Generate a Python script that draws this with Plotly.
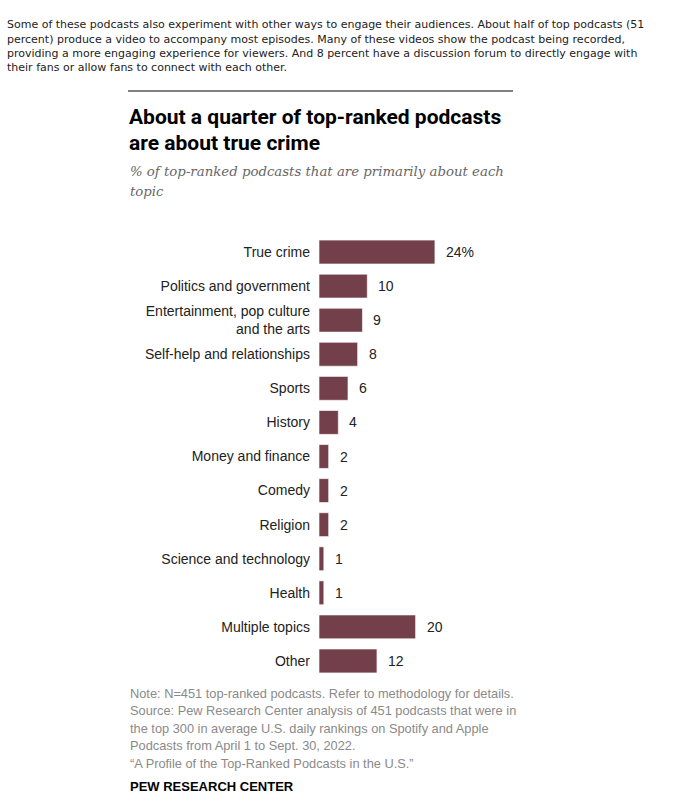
import plotly.graph_objects as go

categories = ["True crime", "Politics and government", "Entertainment, pop culture<br>and the arts",
              "Self-help and relationships", "Sports", "History", "Money and finance", "Comedy",
              "Religion", "Science and technology", "Health", "Multiple topics", "Other"]
values = [24, 10, 9, 8, 6, 4, 2, 2, 2, 1, 1, 20, 12]
value_labels = ["24%", "10", "9", "8", "6", "4", "2", "2", "2", "1", "1", "20", "12"]

intro_lines = [
    "Some of these podcasts also experiment with other ways to engage their audiences. About half of top podcasts (51",
    "percent) produce a video to accompany most episodes. Many of these videos show the podcast being recorded,",
    "providing a more engaging experience for viewers. And 8 percent have a discussion forum to directly engage with",
    "their fans or allow fans to connect with each other.",
]
prev_line = "sports podcasts (32 percent)."
title_lines = ["About a quarter of top-ranked podcasts", "are about true crime"]
subtitle_lines = ["% of top-ranked podcasts that are primarily about each", "topic"]
note_lines = [
    "Note: N=451 top-ranked podcasts. Refer to methodology for details.",
    "Source: Pew Research Center analysis of 451 podcasts that were in",
    "the top 300 in average U.S. daily rankings on Spotify and Apple",
    "Podcasts from April 1 to Sept. 30, 2022.",
    "\u201cA Profile of the Top-Ranked Podcasts in the U.S.\u201d",
]
source_label = "PEW RESEARCH CENTER"

W_FIG, H_FIG = 677, 811
L, R = 319, 640
T, B = 235, 678
PW, PH = R - L, B - T
PX_PER_UNIT = 4.83

def xp(px):
    return (px - L) / PW

def yp(py):
    return (B - py) / PH

BAR = "#733f4a"
SANS = "Liberation Sans, Arial, sans-serif"

fig = go.Figure()
fig.add_trace(go.Bar(
    x=values, y=categories, orientation="h",
    marker=dict(color=BAR, line=dict(color="rgba(255,255,255,0.6)", width=1)),
    hoverinfo="skip",
))

annotations = []
for c, v, lab in zip(categories, values, value_labels):
    annotations.append(dict(x=v, y=c, xref="x", yref="y", text=lab, showarrow=False,
                            xanchor="left", yanchor="middle", xshift=9,
                            font=dict(family=SANS, size=14, color="#222")))

def txt(text, px, py, size, color, family, anchor="left"):
    annotations.append(dict(x=xp(px), y=yp(py), xref="paper", yref="paper", text=text,
                            showarrow=False, xanchor=anchor, yanchor="middle",
                            font=dict(family=family, size=size, color=color)))

VERD = "DejaVu Sans, Verdana, sans-serif"
txt(prev_line, 5, -6, 11, "#222", VERD)
for i, ln in enumerate(intro_lines):
    txt(ln, 5, 25 + i * 14.3, 11, "#222", VERD)

for i, ln in enumerate(title_lines):
    txt("<b>" + ln + "</b>", 127, 117 + i * 26, 21, "#000", "Roboto, Arial, sans-serif")
for i, ln in enumerate(subtitle_lines):
    txt("<i>" + ln + "</i>", 128, 172 + i * 20, 13.3, "#666", "DejaVu Serif, Georgia, serif")
for i, ln in enumerate(note_lines):
    txt(ln, 128, 693 + i * 17.5, 12.8, "#8a8a8a", SANS)
txt("<b>" + source_label + "</b>", 128, 786, 13, "#000", SANS)

fig.update_layout(
    width=W_FIG, height=H_FIG,
    margin=dict(l=L, r=W_FIG - R, t=T, b=H_FIG - B, pad=0),
    paper_bgcolor="white", plot_bgcolor="white",
    showlegend=False, bargap=0.3,
    xaxis=dict(range=[0, PW / PX_PER_UNIT], visible=False, fixedrange=True),
    yaxis=dict(categoryorder="array", categoryarray=categories, autorange="reversed",
               showgrid=False, zeroline=False, showline=False, ticks="",
               ticklabelstandoff=8,
               tickfont=dict(family=SANS, size=14, color="#222")),
    annotations=annotations,
    shapes=[dict(type="line", xref="paper", yref="paper", x0=xp(128), x1=xp(513),
                 y0=yp(91), y1=yp(91), line=dict(color="#000", width=1))],
)

fig.write_html("out.html")
